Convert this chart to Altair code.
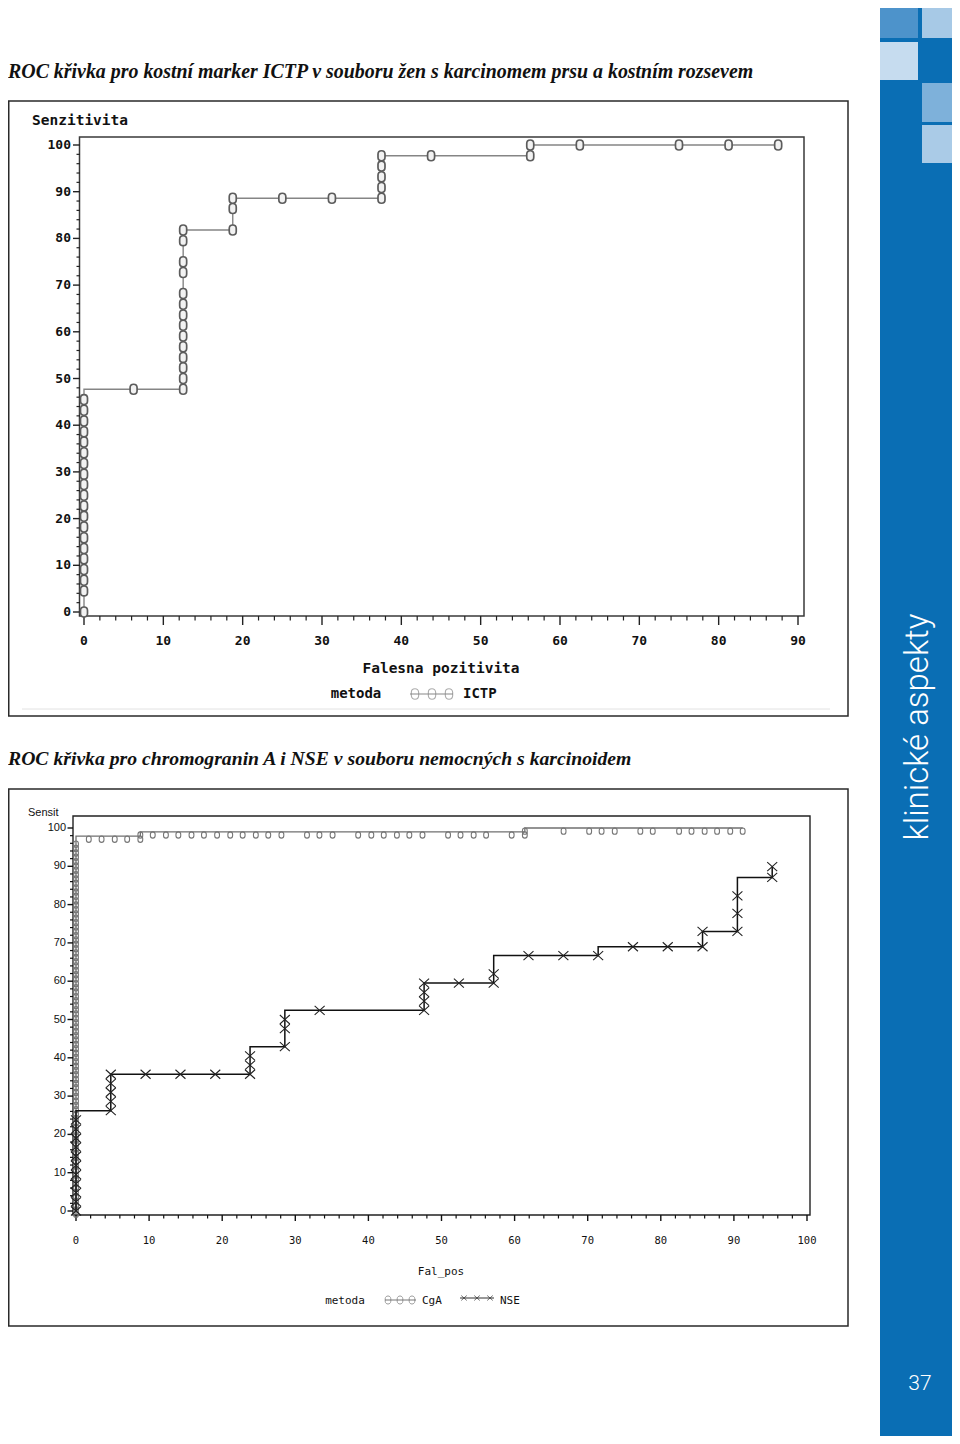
import altair as alt
import pandas as pd

# ---------------- data ----------------
# Chart 1: ICTP
ICTP_FP = [0, 0, 0, 0, 0, 0, 0, 0, 0, 0, 0, 0, 0, 0, 0, 0, 0, 0, 0, 0,
           6.25, 12.5, 12.5, 12.5, 12.5, 12.5, 12.5, 12.5, 12.5, 12.5, 12.5, 12.5, 12.5, 12.5, 12.5,
           18.75, 18.75, 18.75, 25.0, 31.25, 37.5, 37.5, 37.5, 37.5, 37.5, 43.75, 56.25, 56.25,
           62.5, 75.0, 81.25, 87.5]
ICTP_SENS = [0, 4.5, 6.8, 9.1, 11.4, 13.6, 15.9, 18.2, 20.5, 22.7, 25.0, 27.3, 29.5, 31.8, 34.1,
             36.4, 38.6, 40.9, 43.2, 45.5,
             47.7, 47.7, 50.0, 52.3, 54.5, 56.8, 59.1, 61.4, 63.6, 65.9, 68.2, 72.7, 75.0, 79.5, 81.8,
             81.8, 86.4, 88.6, 88.6, 88.6, 88.6, 90.9, 93.2, 95.5, 97.7, 97.7, 97.7, 100,
             100, 100, 100, 100]

# Chart 2: NSE
NSE_FP = [0, 0, 0, 0, 0, 0, 0, 0, 0, 0, 0,
          4.76, 4.76, 4.76, 4.76, 4.76,
          9.52, 14.29, 19.05,
          23.81, 23.81, 23.81,
          28.57, 28.57, 28.57,
          33.33,
          47.62, 47.62, 47.62, 47.62,
          52.38,
          57.14, 57.14,
          61.9, 66.67, 71.43,
          76.19, 80.95,
          85.71, 85.71,
          90.48, 90.48, 90.48,
          95.24, 95.24]
NSE_SENS = [0, 2.4, 4.8, 7.1, 9.5, 11.9, 14.3, 16.7, 19.0, 21.4, 23.8,
            26.2, 28.6, 31.0, 33.3, 35.7,
            35.7, 35.7, 35.7,
            35.7, 38.1, 40.5,
            42.9, 47.6, 50.0,
            52.4,
            52.4, 54.8, 57.1, 59.5,
            59.5,
            59.5, 61.9,
            66.7, 66.7, 66.7,
            69.0, 69.0,
            69.0, 73.0,
            73.0, 77.7, 82.3,
            87.1, 89.9]

# Chart 2: CgA (dense column at x = 0, then near the top)
CGA_SENS_AT_ZERO = [0, 1.1, 2.3, 3.4, 4.5, 5.7, 6.8, 8.0, 9.1, 10.2, 11.4, 12.5, 13.6, 14.8, 15.9,
                    17.0, 18.2, 19.3, 20.5, 21.6, 22.7, 23.9, 25.0, 26.1, 27.3, 28.4, 29.5, 30.7,
                    31.8, 33.0, 34.1, 35.2, 36.4, 37.5, 38.6, 39.8, 40.9, 42.0, 43.2, 44.3, 45.5,
                    46.6, 47.7, 48.9, 50.0, 51.1, 52.3, 53.4, 54.5, 55.7, 56.8, 58.0, 59.1, 60.2,
                    61.4, 62.5, 63.6, 64.8, 65.9, 67.0, 68.2, 69.3, 70.5, 71.6, 72.7, 73.9, 75.0,
                    76.1, 77.3, 78.4, 79.5, 80.7, 81.8, 83.0, 84.1, 85.2, 86.4, 87.5, 88.6, 89.8,
                    90.9, 92.0, 93.2, 94.3, 95.5, 96.6]
CGA_FP_REST = [1.75, 3.5, 5.3, 7.0, 8.8, 8.8, 10.5, 12.3, 14.0, 15.8, 17.5, 19.3, 21.1, 22.8, 24.6,
               26.3, 28.1, 31.6, 33.3, 35.1, 38.6, 40.4, 42.1, 43.9, 45.6, 47.4, 50.9, 52.6, 54.4,
               56.1, 59.6, 61.4, 61.4, 66.7, 70.2, 71.9, 73.7, 77.2, 78.9, 82.5, 84.2, 86.0, 87.7,
               89.5, 91.2]
CGA_SENS_REST = [97.9, 97.9, 97.9, 97.9, 97.9, 99.0, 99.0, 99.0, 99.0, 99.0, 99.0, 99.0, 99.0, 99.0,
                 99.0, 99.0, 99.0, 99.0, 99.0, 99.0, 99.0, 99.0, 99.0, 99.0, 99.0, 99.0, 99.0, 99.0,
                 99.0, 99.0, 99.0, 99.0, 100, 100, 100, 100, 100, 100, 100, 100, 100, 100, 100,
                 100, 100]

TOP_X_TICKS = [0, 10, 20, 30, 40, 50, 60, 70, 80, 90]
TOP_Y_TICKS = [0, 10, 20, 30, 40, 50, 60, 70, 80, 90, 100]
BOT_X_TICKS = [0, 10, 20, 30, 40, 50, 60, 70, 80, 90, 100]
BOT_Y_TICKS = [0, 10, 20, 30, 40, 50, 60, 70, 80, 90, 100]
TOP_X_MINOR = [v for v in range(0, 91, 2) if v % 10]
TOP_Y_MINOR = [v for v in range(0, 101, 2) if v % 10]
BOT_X_MINOR = [v for v in range(0, 101, 2) if v % 10]
BOT_Y_MINOR = [v for v in range(0, 101, 2) if v % 10]

TITLE1 = "ROC křivka pro kostní marker ICTP v souboru žen s karcinomem prsu a kostním rozsevem"
TITLE2 = "ROC křivka pro chromogranin A i NSE v souboru nemocných s karcinoidem"

# ---------------- helpers (page coordinates -> chart coordinates) ----------------
OX = OY = 8
W, H = 944, 1428
RIGHT = OX + W  # right edge of the drawable page area


def X(p):
    return p - OX


def Y(p):
    return p - OY


one = pd.DataFrame({"a": [0]})


def rect(x1, y1, x2, y2, **kw):
    return alt.Chart(one).mark_rect(**kw).encode(
        x=alt.value(X(x1)), x2=alt.value(X(x2)), y=alt.value(Y(y1)), y2=alt.value(Y(y2)))


def rule(x1, y1, x2, y2, **kw):
    return alt.Chart(one).mark_rule(**kw).encode(
        x=alt.value(X(x1)), x2=alt.value(X(x2)), y=alt.value(Y(y1)), y2=alt.value(Y(y2)))


def label(x, y, s, **kw):
    kw.setdefault("baseline", "middle")
    return alt.Chart(one).mark_text(text=s, **kw).encode(x=alt.value(X(x)), y=alt.value(Y(y)))


def sym(x, y, shape, size, **kw):
    return alt.Chart(one).mark_point(shape=shape, size=size, **kw).encode(
        x=alt.value(X(x)), y=alt.value(Y(y)))


OVAL = "M-0.7,-0.3 C-0.7,-1.23 0.7,-1.23 0.7,-0.3 L0.7,0.3 C0.7,1.23 -0.7,1.23 -0.7,0.3 Z"
SMALL_O = "M-0.75,0.75 C-0.75,-0.25 0.75,-0.25 0.75,0.75 L0.75,1.25 C0.75,2.25 -0.75,2.25 -0.75,1.25 Z"
XMARK = "M-1,-0.9 L1,0.9 M-1,0.9 L1,-0.9"

MONO = "DejaVu Sans Mono"

# ---------------- chart 1 (ICTP) ----------------
xT = alt.Scale(domain=[0, 90], range=[X(84), X(798)], nice=False, zero=False)
yT = alt.Scale(domain=[0, 100], range=[Y(612), Y(145)], nice=False, zero=False)

ictp = pd.DataFrame({"fp": ICTP_FP, "sens": ICTP_SENS, "i": list(range(len(ICTP_FP)))})
t_enc = dict(x=alt.X("fp:Q", scale=xT, axis=None), y=alt.Y("sens:Q", scale=yT, axis=None))

top_line = alt.Chart(ictp).mark_line(interpolate="step-before", color="#858585",
                                     strokeWidth=1.4).encode(order="i:Q", **t_enc)
top_pts = alt.Chart(ictp).mark_point(shape=OVAL, size=100, filled=True, fill="#f2f2f2",
                                     stroke="#5c5c5c", strokeWidth=1.7, opacity=1).encode(**t_enc)

tyM = pd.DataFrame({"v": TOP_Y_TICKS, "lab": [str(v) for v in TOP_Y_TICKS]})
tym = pd.DataFrame({"v": TOP_Y_MINOR})
txM = pd.DataFrame({"v": TOP_X_TICKS, "lab": [str(v) for v in TOP_X_TICKS]})
txm = pd.DataFrame({"v": TOP_X_MINOR})

top_axes = [
    alt.Chart(tyM).mark_rule(color="#222", strokeWidth=1.4).encode(
        y=alt.Y("v:Q", scale=yT, axis=None), x=alt.value(X(73)), x2=alt.value(X(80))),
    alt.Chart(tym).mark_rule(color="#222", strokeWidth=1.2).encode(
        y=alt.Y("v:Q", scale=yT, axis=None), x=alt.value(X(76.5)), x2=alt.value(X(80))),
    alt.Chart(tyM).mark_text(align="right", baseline="middle", font=MONO, fontSize=13,
                             fontWeight="bold", color="#111").encode(
        y=alt.Y("v:Q", scale=yT, axis=None), x=alt.value(X(71)), text="lab:N"),
    alt.Chart(txM).mark_rule(color="#222", strokeWidth=1.4).encode(
        x=alt.X("v:Q", scale=xT, axis=None), y=alt.value(Y(616)), y2=alt.value(Y(625))),
    alt.Chart(txm).mark_rule(color="#222", strokeWidth=1.2).encode(
        x=alt.X("v:Q", scale=xT, axis=None), y=alt.value(Y(616)), y2=alt.value(Y(620.5))),
    alt.Chart(txM).mark_text(align="center", baseline="middle", font=MONO, fontSize=13,
                             fontWeight="bold", color="#111").encode(
        x=alt.X("v:Q", scale=xT, axis=None), y=alt.value(Y(641)), text="lab:N"),
]

top_chart = alt.layer(*top_axes, top_line, top_pts)

# ---------------- chart 2 (CgA, NSE) ----------------
xB = alt.Scale(domain=[0, 100], range=[X(76), X(807)], nice=False, zero=False)
yB = alt.Scale(domain=[0, 100], range=[Y(1211), Y(828)], nice=False, zero=False)

cga = pd.DataFrame({
    "fp": [0] * len(CGA_SENS_AT_ZERO) + CGA_FP_REST,
    "sens": CGA_SENS_AT_ZERO + CGA_SENS_REST,
})
cga["i"] = list(range(len(cga)))
nse = pd.DataFrame({"fp": NSE_FP, "sens": NSE_SENS, "i": list(range(len(NSE_FP)))})
b_enc = dict(x=alt.X("fp:Q", scale=xB, axis=None), y=alt.Y("sens:Q", scale=yB, axis=None))

cga_line = alt.Chart(cga).mark_line(interpolate="step-before", color="#707070",
                                    strokeWidth=1.3).encode(order="i:Q", **b_enc)
cga_pts = alt.Chart(cga).mark_point(shape=SMALL_O, size=40, filled=False, stroke="#767676",
                                    strokeWidth=1.1, opacity=1).encode(**b_enc)
nse_line = alt.Chart(nse).mark_line(interpolate="step-before", color="#111",
                                    strokeWidth=1.5).encode(order="i:Q", **b_enc)
nse_pts = alt.Chart(nse).mark_point(shape=XMARK, size=100, filled=False, stroke="#222",
                                    strokeWidth=1.1, opacity=1).encode(**b_enc)

byM = pd.DataFrame({"v": BOT_Y_TICKS, "lab": [str(v) for v in BOT_Y_TICKS]})
bym = pd.DataFrame({"v": BOT_Y_MINOR})
bxM = pd.DataFrame({"v": BOT_X_TICKS, "lab": [str(v) for v in BOT_X_TICKS]})
bxm = pd.DataFrame({"v": BOT_X_MINOR})

bot_axes = [
    alt.Chart(byM).mark_rule(color="#111", strokeWidth=1.4).encode(
        y=alt.Y("v:Q", scale=yB, axis=None), x=alt.value(X(67.5)), x2=alt.value(X(73))),
    alt.Chart(bym).mark_rule(color="#111", strokeWidth=1.2).encode(
        y=alt.Y("v:Q", scale=yB, axis=None), x=alt.value(X(70)), x2=alt.value(X(73))),
    alt.Chart(byM).mark_text(align="right", baseline="middle", font="Liberation Sans",
                             fontSize=11, color="#111").encode(
        y=alt.Y("v:Q", scale=yB, axis=None), x=alt.value(X(66)), text="lab:N"),
    alt.Chart(bxM).mark_rule(color="#111", strokeWidth=1.4).encode(
        x=alt.X("v:Q", scale=xB, axis=None), y=alt.value(Y(1215)), y2=alt.value(Y(1221))),
    alt.Chart(bxm).mark_rule(color="#111", strokeWidth=1.2).encode(
        x=alt.X("v:Q", scale=xB, axis=None), y=alt.value(Y(1215)), y2=alt.value(Y(1218.5))),
    alt.Chart(bxM).mark_text(align="center", baseline="middle", font=MONO, fontSize=10.5,
                             color="#111").encode(
        x=alt.X("v:Q", scale=xB, axis=None), y=alt.value(Y(1241)), text="lab:N"),
]

bot_chart = alt.layer(*bot_axes, cga_line, cga_pts, nse_line, nse_pts)

# ---------------- decoration / frames / text ----------------
BLUE = "#0a6eb4"
deco_back = [
    # sidebar
    rect(880, 8, RIGHT, 1436, fill=BLUE),
    rect(880, 8, 918, 38, fill="#4d93cb"),
    rect(922, 8, RIGHT, 38, fill="#a7c9e6"),
    rect(880, 42, 918, 80, fill="#c6dcef"),
    rect(922, 83, RIGHT, 122, fill="#7eb1da"),
    rect(922, 125, RIGHT, 163, fill="#aacbe7"),
    # outer boxes
    rect(8.75, 101, 848, 716, fillOpacity=0, stroke="#2a2a2a", strokeWidth=1.5),
    rect(8.75, 789, 848, 1326, fillOpacity=0, stroke="#2a2a2a", strokeWidth=1.5),
    rule(22, 709, 830, 709, color="#e2e2e2", strokeWidth=1),
    # plot frames
    rect(79.5, 137, 804, 616, fillOpacity=0, stroke="#3a3a3a", strokeWidth=1.5),
    rect(73, 816, 810, 1215, fillOpacity=0, stroke="#222", strokeWidth=1.4),
]

deco_text = [
    label(8, 72, TITLE1, align="left", font="Liberation Serif", fontSize=19.9,
          fontWeight="bold", fontStyle="italic", color="#111"),
    label(8, 759, TITLE2, align="left", font="Liberation Serif", fontSize=19.7,
          fontWeight="bold", fontStyle="italic", color="#111"),
    # chart 1 texts
    label(32, 121, "Senzitivita", align="left", font=MONO, fontSize=14.5, fontWeight="bold",
          color="#111"),
    label(441, 669, "Falesna pozitivita", align="center", font=MONO, fontSize=14.5,
          fontWeight="bold", color="#111"),
    label(356, 694, "metoda", align="center", font=MONO, fontSize=14, fontWeight="bold",
          color="#111"),
    label(463, 694, "ICTP", align="left", font=MONO, fontSize=14, fontWeight="bold",
          color="#111"),
    rule(410, 694, 453, 694, color="#888", strokeWidth=1.2),
    sym(415, 694, OVAL, 110, filled=False, stroke="#8a8a8a", strokeWidth=1.1),
    sym(432, 694, OVAL, 110, filled=False, stroke="#8a8a8a", strokeWidth=1.1),
    sym(449, 694, OVAL, 110, filled=False, stroke="#8a8a8a", strokeWidth=1.1),
    # chart 2 texts
    label(28, 813, "Sensit", align="left", font="Liberation Sans", fontSize=11, color="#111"),
    label(441, 1272, "Fal_pos", align="center", font=MONO, fontSize=11, color="#111"),
    label(345, 1301, "metoda", align="center", font=MONO, fontSize=11, color="#111"),
    rule(385, 1300, 416, 1300, color="#777", strokeWidth=1),
    sym(388, 1300, OVAL, 64, filled=False, stroke="#777", strokeWidth=1),
    sym(400, 1300, OVAL, 64, filled=False, stroke="#777", strokeWidth=1),
    sym(412, 1300, OVAL, 64, filled=False, stroke="#777", strokeWidth=1),
    label(422, 1301, "CgA", align="left", font=MONO, fontSize=11, color="#111"),
    rule(460, 1298, 494, 1298, color="#333", strokeWidth=1),
    sym(464, 1298, XMARK, 30, filled=False, stroke="#333", strokeWidth=1),
    sym(477, 1298, XMARK, 30, filled=False, stroke="#333", strokeWidth=1),
    sym(490, 1298, XMARK, 30, filled=False, stroke="#333", strokeWidth=1),
    label(500, 1301, "NSE", align="left", font=MONO, fontSize=11, color="#111"),
    # sidebar texts
    label(918, 727, "klinické aspekty", align="center", angle=270, font="Roboto",
          fontWeight=300, fontSize=33, color="white"),
    label(920, 1384, "37", align="center", font="Roboto", fontWeight=300, fontSize=21,
          color="white"),
]

chart = alt.layer(*deco_back, top_chart, bot_chart, *deco_text).resolve_scale(
    x="independent", y="independent"
).properties(
    width=W, height=H, padding=0,
    autosize=alt.AutoSizeParams(type="none"),
    background="white",
).configure_view(stroke=None)

chart.save("out.html", embed_options={"renderer": "svg", "actions": False})
